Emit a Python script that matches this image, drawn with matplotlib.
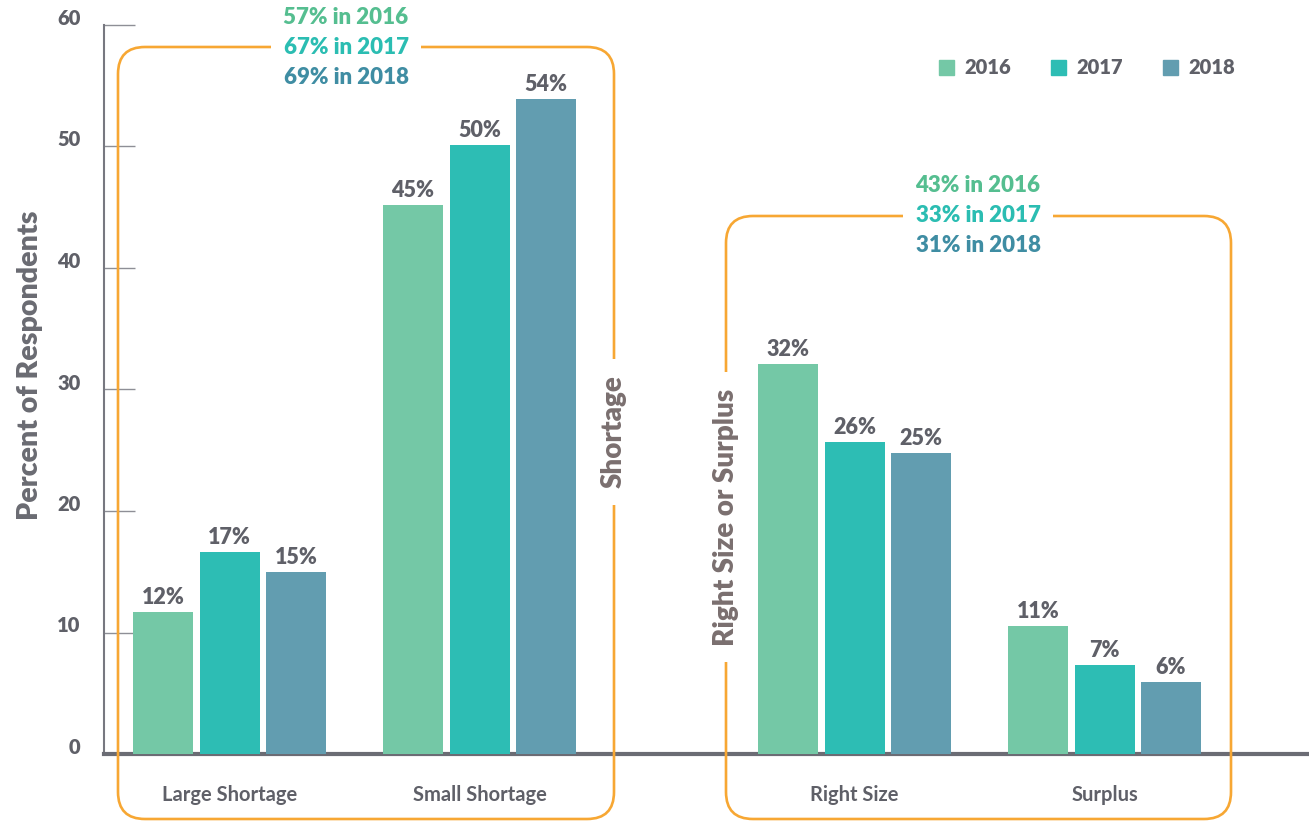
import numpy as np
import matplotlib
matplotlib.use("Agg")
import matplotlib.pyplot as plt
import matplotlib.transforms as mtransforms
from matplotlib.patches import FancyBboxPatch, Patch

plt.rcParams['font.family'] = ['Lato', 'DejaVu Sans']

# data
categories = ['Large Shortage', 'Small Shortage', 'Right Size', 'Surplus']
cat_pos = [0, 1, 2.5, 3.5]
years = ['2016', '2017', '2018']
values = {
    '2016': [11.7, 45.2, 32.1, 10.5],
    '2017': [16.6, 50.1, 25.7, 7.3],
    '2018': [15.0, 53.9, 24.8, 5.9],
}
labels = {
    '2016': ['12%', '45%', '32%', '11%'],
    '2017': ['17%', '50%', '26%', '7%'],
    '2018': ['15%', '54%', '25%', '6%'],
}
shortage_text = ['57% in 2016', '67% in 2017', '69% in 2018']
surplus_text = ['43% in 2016', '33% in 2017', '31% in 2018']

bar_colors = {'2016': '#74C8A6', '2017': '#2DBDB4', '2018': '#629DB0'}
text_colors = ['#55BE90', '#2BBDB2', '#3F8DA3']
gray = '#5F6068'
orange = '#F7A733'
wt = 'heavy'

W, H = 1309, 821
fig = plt.figure(figsize=(W / 100, H / 100), dpi=100)
ax = fig.add_axes([104 / W, (H - 754) / H, (W - 104) / W, (754 - 25) / H])

width = 0.24
step = 0.266
x = np.array(cat_pos)
for i, yr in enumerate(years):
    bars = ax.bar(x + (i - 1) * step, values[yr], width, color=bar_colors[yr], zorder=3)
    ax.bar_label(bars, labels=labels[yr], padding=3, fontsize=15.5, fontweight=wt, color=gray)

ax.set_ylim(0, 60)
ax.set_xlim(-0.502, 4.318)
ax.set_yticks(range(0, 61, 10))
ax.set_xticks(x)
ax.set_xticklabels(categories, fontsize=14.5, fontweight='bold', color=gray)
ax.tick_params(axis='x', length=0, pad=22)
ax.tick_params(axis='y', direction='in', length=22, width=1, color='#8E8F96',
               pad=17, labelsize=14.5, labelcolor=gray)
for lab in ax.get_yticklabels():
    lab.set_fontweight(wt)
    lab.set_transform(lab.get_transform() + mtransforms.ScaledTranslation(0, 0.08, fig.dpi_scale_trans))

for s in ['top', 'right']:
    ax.spines[s].set_visible(False)
ax.spines['left'].set_color('#777880')
ax.spines['left'].set_linewidth(1.5)
ax.spines['bottom'].set_color('#6B6C74')
ax.spines['bottom'].set_linewidth(3)

fig.text(30 / W, (H - 365) / H, 'Percent of Respondents', rotation=90, ha='center', va='center',
         fontsize=20.5, fontweight=wt, color='#6A6B72')

# legend
handles = [Patch(color=bar_colors[yr]) for yr in years]
leg = fig.legend(handles, years, loc='center', bbox_to_anchor=(1087 / W, (H - 68) / H), ncol=3,
                 frameon=False, fontsize=14.5, handlelength=0.75, handleheight=0.75,
                 handletextpad=0.5, columnspacing=2.0, borderpad=0)
for t in leg.get_texts():
    t.set_color(gray)
    t.set_fontweight(wt)


# orange group boxes (pixel coords, top-left origin)
def group_box(x0, y0, x1, y1):
    box = FancyBboxPatch((x0 / 100, (H - y1) / 100), (x1 - x0) / 100, (y1 - y0) / 100,
                         boxstyle='round,pad=0,rounding_size=0.27', transform=fig.dpi_scale_trans,
                         fill=False, edgecolor=orange, linewidth=1.9, zorder=2)
    fig.add_artist(box)


group_box(118, 47, 614, 819)
group_box(726, 216, 1231, 819)


def top_labels(cx, cy, lines):
    for j, (txt, c) in enumerate(zip(lines, text_colors)):
        kw = {}
        if j == 1:
            kw['bbox'] = dict(boxstyle='square,pad=0.55', facecolor='white', edgecolor='none')
        fig.text(cx / W, (H - (cy + (j - 1) * 30)) / H, txt, ha='center', va='center',
                 fontsize=16, fontweight=wt, color=c, zorder=4 if j != 1 else 3, **kw)


top_labels(346, 47, shortage_text)
top_labels(978, 216, surplus_text)

side_bbox = dict(boxstyle='square,pad=0.6', facecolor='white', edgecolor='none')
fig.text(614 / W, (H - 432) / H, 'Shortage', rotation=90, ha='center', va='center',
         fontsize=20, fontweight=wt, color='#7A6F6F', bbox=side_bbox, zorder=3)
fig.text(726 / W, (H - 517) / H, 'Right Size or Surplus', rotation=90, ha='center', va='center',
         fontsize=20, fontweight=wt, color='#7A6F6F', bbox=side_bbox, zorder=3)

fig.savefig('out.png', dpi=100)
